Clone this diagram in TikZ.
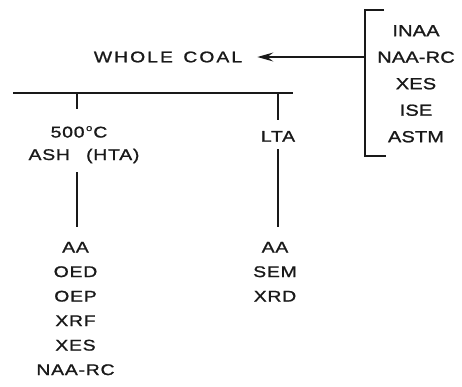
\documentclass[tikz,border=0pt]{standalone}
\usepackage{fontspec}
\setmainfont{Liberation Sans}[FakeStretch=1.25, LetterSpace=5, FakeBold=1.2]
\usetikzlibrary{arrows.meta, positioning}
\definecolor{ink}{RGB}{25,25,25}

\begin{document}
\begin{tikzpicture}[x=1pt, y=-1pt,
  every node/.style={text=ink, inner sep=0pt, align=center,
    font=\fontsize{15.5}{24.5}\selectfont},
  rule/.style={draw=ink, line width=1.4pt},
  toplist/.style={font=\fontsize{16}{26.5}\selectfont\addfontfeature{LetterSpace=1}, anchor=north},
  sublist/.style={anchor=north}]
\useasboundingbox (0,0) rectangle (462,386);

% whole coal and the methods used on it
\node[font=\fontsize{15.5}{24.5}\selectfont\addfontfeature{LetterSpace=13}] (coal) at (168,57) {WHOLE\hspace{3pt} COAL};
\node[toplist] (direct) at (416,25) {INAA\\NAA-RC\\XES\\ISE\\ASTM};
\coordinate (brkT) at (384,10);
\coordinate (brkB) at (386,156);
\coordinate (brk) at (365,57);
\draw[rule] (brkT) -- (brkT -| brk) -- (brkB -| brk) -- (brkB);
\draw[rule, -{Stealth[length=16pt, width=9pt, inset=6pt]}] (brk) -- ([xshift=15pt]coal.east);

% split into the two ashes
\coordinate (barL) at (13,93);
\coordinate (barR) at (293,93);
\draw[rule] (barL) -- (barR);

\node[anchor=base] (hot) at (79,137.5) {500\hspace{1.5pt}\raisebox{6.5pt}{\fontsize{9}{9}\selectfont o}\hspace{1pt}C};
\node[anchor=base] (ash) at (84,160) {ASH\hspace{10pt} (HTA)};
\node[anchor=base] (lta) at (278,141.7) {LTA};

\coordinate (hotA) at (77,93);
\coordinate (hotB) at (77,109);
\coordinate (hotC) at (77,172);
\coordinate (hotD) at (77,227);
\draw[rule] (hotA) -- (hotB);
\draw[rule] (hotC) -- (hotD);

\coordinate (ltaA) at (278,93);
\coordinate (ltaB) at (278,120);
\coordinate (ltaC) at (278,149);
\coordinate (ltaD) at (278,227);
\draw[rule] (ltaA) -- (ltaB);
\draw[rule] (ltaC) -- (ltaD);

% methods used on each ash
\node[sublist] (hotm) at (75.5,241.7) {AA\\OED\\OEP\\XRF\\XES\\NAA-RC};
\node[sublist] (ltam) at (275,241.7) {AA\\SEM\\XRD};
\end{tikzpicture}
\end{document}
